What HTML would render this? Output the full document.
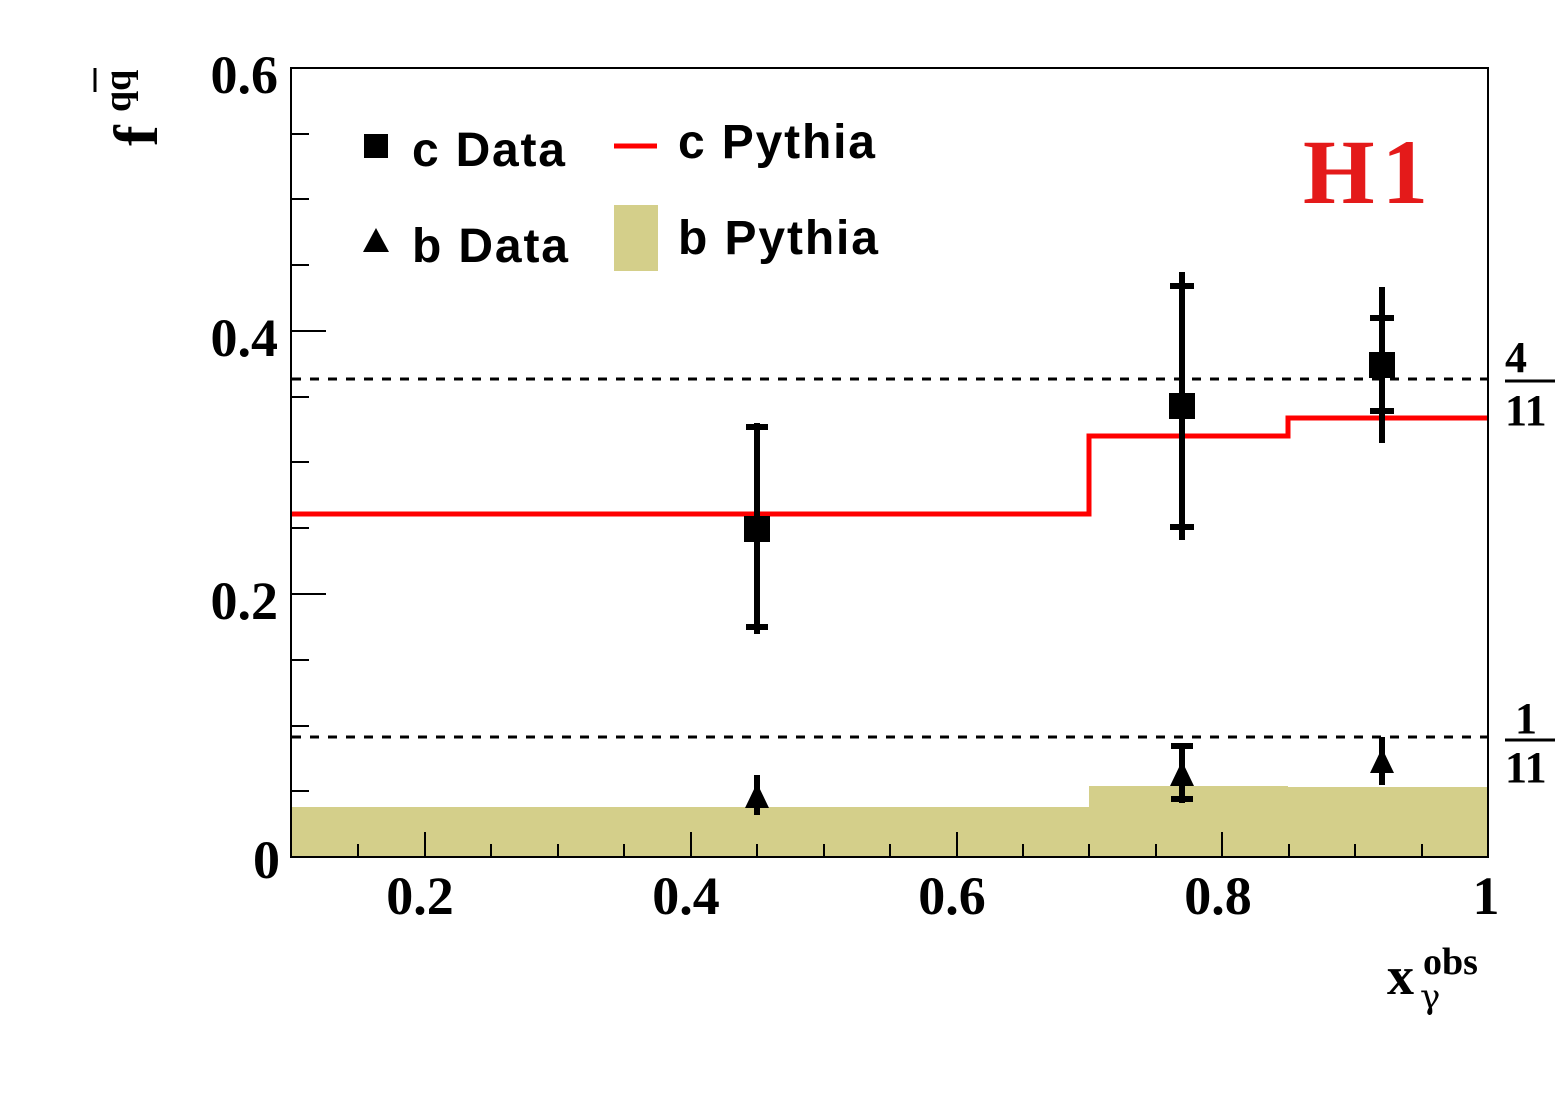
<!DOCTYPE html>
<html><head><style>body{margin:0;background:#fff}svg{display:block}</style></head><body>
<svg width="1558" height="1119" xmlns="http://www.w3.org/2000/svg">
<rect width="1558" height="1119" fill="#fff"/>
<path d="M292 857 V807 H1089 V786 H1288 V787 H1488 V857 Z" fill="#d4cf8a"/>
<line x1="292" y1="379" x2="1488" y2="379" stroke="#000" stroke-width="3" stroke-dasharray="9,9"/>
<line x1="292" y1="737" x2="1488" y2="737" stroke="#000" stroke-width="3" stroke-dasharray="9,9"/>
<path d="M292 514 H1089 V436 H1288 V418 H1488" fill="none" stroke="#f00" stroke-width="5"/>
<rect x="291" y="68" width="1197" height="789" fill="none" stroke="#000" stroke-width="2"/>
<g stroke="#000" stroke-width="2">
<line x1="291" y1="857" x2="326" y2="857"/><line x1="291" y1="594" x2="326" y2="594"/><line x1="291" y1="331" x2="326" y2="331"/><line x1="291" y1="68" x2="326" y2="68"/>
<line x1="291" y1="791" x2="309" y2="791"/><line x1="291" y1="726" x2="309" y2="726"/><line x1="291" y1="660" x2="309" y2="660"/>
<line x1="291" y1="528" x2="309" y2="528"/><line x1="291" y1="462" x2="309" y2="462"/><line x1="291" y1="397" x2="309" y2="397"/>
<line x1="291" y1="265" x2="309" y2="265"/><line x1="291" y1="199" x2="309" y2="199"/><line x1="291" y1="134" x2="309" y2="134"/>
<line x1="425" y1="857" x2="425" y2="832"/><line x1="691" y1="857" x2="691" y2="832"/><line x1="957" y1="857" x2="957" y2="832"/><line x1="1222" y1="857" x2="1222" y2="832"/>
<line x1="358" y1="857" x2="358" y2="844"/><line x1="491" y1="857" x2="491" y2="844"/><line x1="558" y1="857" x2="558" y2="844"/><line x1="624" y1="857" x2="624" y2="844"/>
<line x1="757" y1="857" x2="757" y2="844"/><line x1="824" y1="857" x2="824" y2="844"/><line x1="890" y1="857" x2="890" y2="844"/><line x1="1023" y1="857" x2="1023" y2="844"/>
<line x1="1089" y1="857" x2="1089" y2="844"/><line x1="1156" y1="857" x2="1156" y2="844"/><line x1="1289" y1="857" x2="1289" y2="844"/><line x1="1355" y1="857" x2="1355" y2="844"/><line x1="1422" y1="857" x2="1422" y2="844"/>
</g>
<g stroke="#000" stroke-width="6">
<line x1="757" y1="423" x2="757" y2="634"/><line x1="746" y1="427" x2="768" y2="427"/><line x1="746" y1="627" x2="768" y2="627"/>
<line x1="1182" y1="272" x2="1182" y2="540"/><line x1="1170" y1="286" x2="1194" y2="286"/><line x1="1170" y1="527" x2="1194" y2="527"/>
<line x1="1382" y1="287" x2="1382" y2="443"/><line x1="1370" y1="318" x2="1394" y2="318"/><line x1="1370" y1="411" x2="1394" y2="411"/>
<line x1="757" y1="775" x2="757" y2="815"/>
<line x1="1182" y1="743" x2="1182" y2="803"/><line x1="1171" y1="746" x2="1193" y2="746"/><line x1="1171" y1="799" x2="1193" y2="799"/>
<line x1="1382" y1="737" x2="1382" y2="785"/>
</g>
<g fill="#000">
<rect x="744" y="516" width="26" height="26"/><rect x="1169" y="393" width="26" height="26"/><rect x="1369" y="352" width="26" height="26"/>
<polygon points="757,783 769,808 745,808"/><polygon points="1182,761 1194,786 1170,786"/><polygon points="1382,748 1394,773 1370,773"/>
</g>
<rect x="364" y="134" width="24" height="24" fill="#000"/>
<polygon points="376,228 389,252 363,252" fill="#000"/>
<line x1="614" y1="146" x2="657" y2="146" stroke="#f00" stroke-width="5"/>
<rect x="614" y="205" width="44" height="66" fill="#d4cf8a"/>
<g font-family="Liberation Sans, sans-serif" font-weight="bold" font-size="48" fill="#000">
<text x="412" y="166" textLength="153">c Data</text><text x="412" y="262" textLength="156">b Data</text>
<text x="678" y="158" textLength="197">c Pythia</text><text x="678" y="254" textLength="200">b Pythia</text>
</g>
<text x="1303" y="203" font-family="Liberation Serif, serif" font-weight="bold" font-size="92" fill="#e41a1a" textLength="125">H1</text>
<g font-family="Liberation Serif, serif" font-weight="bold" font-size="54" fill="#000">
<text x="278" y="93" text-anchor="end">0.6</text><text x="278" y="356" text-anchor="end">0.4</text>
<text x="278" y="619" text-anchor="end">0.2</text><text x="280" y="878" text-anchor="end">0</text>
<text x="420" y="914" text-anchor="middle">0.2</text><text x="686" y="914" text-anchor="middle">0.4</text>
<text x="952" y="914" text-anchor="middle">0.6</text><text x="1218" y="914" text-anchor="middle">0.8</text>
<text x="1486" y="914" text-anchor="middle">1</text>
<text x="1387" y="994">x</text>
<text x="1505" y="372" font-size="44">4</text><text x="1505" y="425" font-size="44">11</text>
<text x="1515" y="733" font-size="44">1</text><text x="1505" y="782" font-size="44">11</text>
</g>
<line x1="1505" y1="381" x2="1555" y2="381" stroke="#000" stroke-width="3"/>
<line x1="1505" y1="740" x2="1555" y2="740" stroke="#000" stroke-width="3"/>
<g font-family="Liberation Serif, serif" font-weight="bold" fill="#000">
<text x="1423" y="974" font-size="38">obs</text>
<text x="1420" y="1008" font-size="34" font-weight="normal" font-family="DejaVu Serif, serif">γ</text>
<text transform="translate(157,146) rotate(-90)" font-size="62">f</text>
<text transform="translate(130,112) rotate(-90)" font-size="38">qq</text>
</g>
<line x1="95" y1="68" x2="95" y2="92" stroke="#000" stroke-width="3"/>
</svg>
</body></html>
